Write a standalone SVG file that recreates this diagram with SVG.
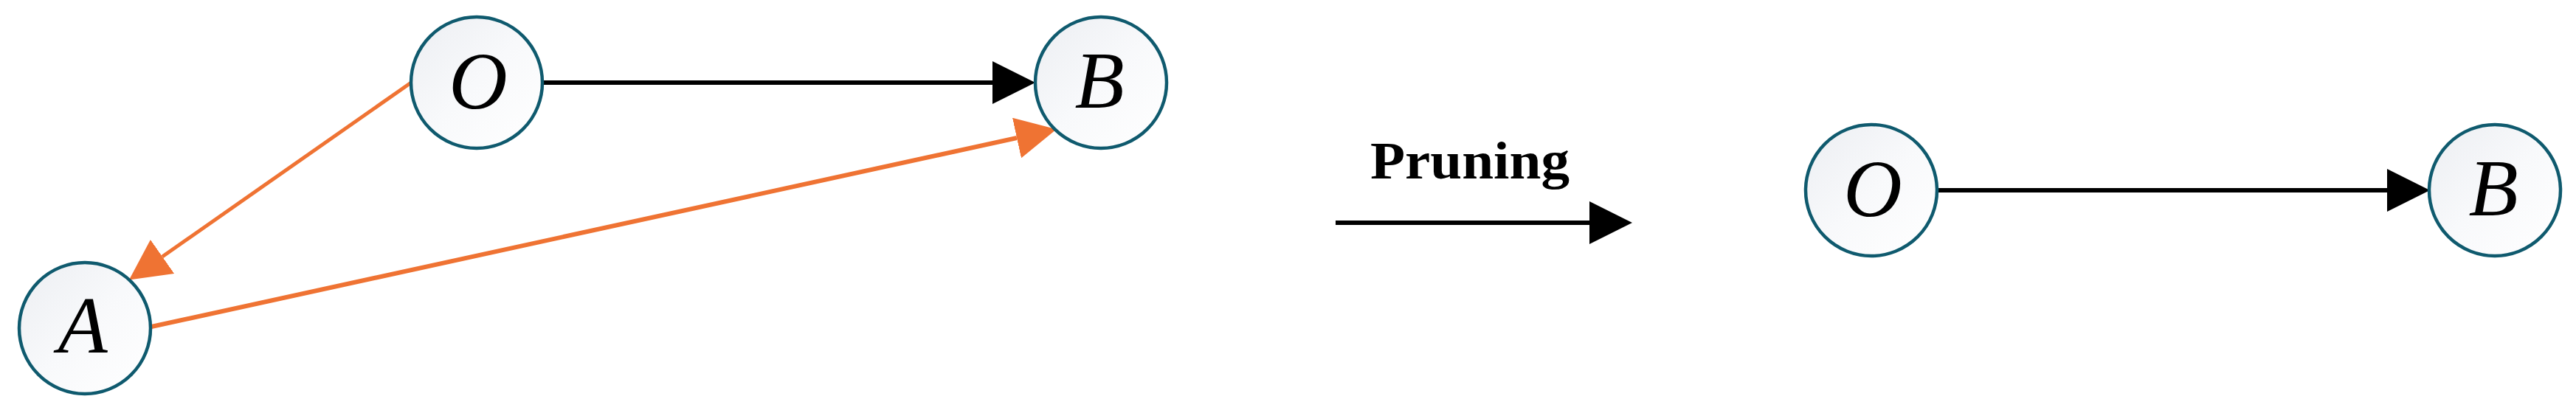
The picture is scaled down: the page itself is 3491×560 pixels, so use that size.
<svg xmlns="http://www.w3.org/2000/svg" width="3491" height="560" viewBox="0 0 3491 560">
  <style>
    .node { fill: url(#nodeFill); stroke: #0F5A6E; stroke-width: 4.5; }
    .lbl { font-family: "Liberation Serif", "Times New Roman", serif; font-style: italic; font-size: 110px; fill: #000; text-anchor: middle; }
    .blk { stroke: #000; stroke-width: 6; fill: none; }
    .org { stroke: #EF7333; fill: none; }
    .title { font-family: "Liberation Serif", "Times New Roman", serif; font-weight: bold; font-size: 72px; fill: #000; }
  </style>
  <defs>
    <linearGradient id="nodeFill" x1="0" y1="0" x2="1" y2="1">
      <stop offset="0" stop-color="#ECEEF2"/>
      <stop offset="0.5" stop-color="#F8F9FB"/>
      <stop offset="1" stop-color="#FFFFFF"/>
    </linearGradient>
    <marker id="arrBlack" markerUnits="userSpaceOnUse" viewBox="0 0 58 58" markerWidth="58" markerHeight="58" refX="0" refY="29" orient="auto">
      <path d="M0,0 L58,29 L0,58 Z" fill="#000"/>
    </marker>
    <marker id="arrOrange" markerUnits="userSpaceOnUse" viewBox="0 0 55 56" markerWidth="55" markerHeight="56" refX="0" refY="28" orient="auto">
      <path d="M0,0 L55,28 L0,56 Z" fill="#EF7333"/>
    </marker>
  </defs>

  <g id="connectors">
    <line class="blk" x1="735" y1="112" x2="1345" y2="112" marker-end="url(#arrBlack)"/>
    <line class="org" stroke-width="5" x1="560" y1="110" x2="220" y2="348" marker-end="url(#arrOrange)"/>
    <line class="org" stroke-width="6" x1="205" y1="443" x2="1378" y2="187" marker-end="url(#arrOrange)"/>
    <line class="blk" x1="2627" y1="258" x2="3235" y2="258" marker-end="url(#arrBlack)"/>
  </g>

  <g id="pruning">
    <text class="title" x="1857" y="242" textLength="270" lengthAdjust="spacingAndGlyphs">Pruning</text>
    <line class="blk" x1="1810" y1="302" x2="2154" y2="302" marker-end="url(#arrBlack)"/>
  </g>

  <g id="node-O-left">
    <circle class="node" cx="646" cy="112" r="89"/>
    <text class="lbl" x="648" y="147">O</text>
  </g>
  <g id="node-B-left">
    <circle class="node" cx="1492" cy="112" r="89"/>
    <text class="lbl" x="1490" y="146">B</text>
  </g>
  <g id="node-A">
    <circle class="node" cx="115" cy="445" r="89"/>
    <text class="lbl" x="112" y="478">A</text>
  </g>
  <g id="node-O-right">
    <circle class="node" cx="2536" cy="258" r="89"/>
    <text class="lbl" x="2538" y="293">O</text>
  </g>
  <g id="node-B-right">
    <circle class="node" cx="3381" cy="258" r="89"/>
    <text class="lbl" x="3379" y="292">B</text>
  </g>
</svg>
